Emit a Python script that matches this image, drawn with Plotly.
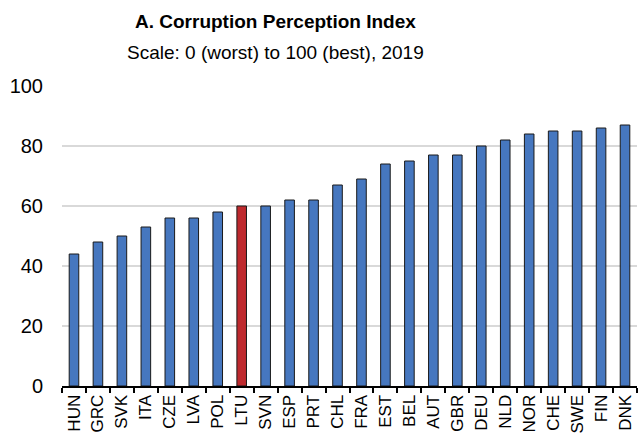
import plotly.graph_objects as go

countries = ["HUN", "GRC", "SVK", "ITA", "CZE", "LVA", "POL", "LTU", "SVN", "ESP", "PRT", "CHL",
             "FRA", "EST", "BEL", "AUT", "GBR", "DEU", "NLD", "NOR", "CHE", "SWE", "FIN", "DNK"]
cpi_2019 = [44, 48, 50, 53, 56, 56, 58, 60, 60, 62, 62, 67,
            69, 74, 75, 77, 77, 80, 82, 84, 85, 85, 86, 87]
highlight = "LTU"
y_ticks = [0, 20, 40, 60, 80, 100]

BLUE = "#4677BF"
RED = "#BE2A2E"
FONT = "Liberation Sans Narrow, Arial Narrow, Liberation Sans, Arial, sans-serif"

W, H = 641, 438
ML, MR, MT, MB = 62, 4, 86, 52
plot_h = H - MT - MB

colors = [RED if c == highlight else BLUE for c in countries]

fig = go.Figure(go.Bar(
    x=countries, y=cpi_2019,
    marker=dict(color=colors, line=dict(color="#1a1a1a", width=1)),
    width=0.4,
))


def ypix(py):
    """pixel y from top -> paper coordinate"""
    return (H - py - MB) / plot_h


fig.update_layout(
    width=W, height=H,
    margin=dict(l=ML, r=MR, t=MT, b=MB, autoexpand=False),
    paper_bgcolor="white", plot_bgcolor="white",
    font=dict(family=FONT, color="#000000", size=19),
    showlegend=False,
    annotations=[
        dict(text="<b>A. Corruption Perception Index</b>", x=0.372, y=ypix(21),
             xref="paper", yref="paper", showarrow=False, yanchor="middle",
             font=dict(size=19, family=FONT)),
        dict(text="Scale: 0 (worst) to 100 (best), 2019", x=0.372, y=ypix(52),
             xref="paper", yref="paper", showarrow=False, yanchor="middle",
             font=dict(size=19, family=FONT)),
    ],
)

fig.update_xaxes(
    type="category",
    tickangle=-90, dtick=1, tickmode="linear",
    ticks="outside", tickson="boundaries", ticklen=5, tickwidth=2, tickcolor="#000",
    showline=True, linecolor="#000", linewidth=2,
    showgrid=False,
    tickfont=dict(size=17, family=FONT),
    range=[-0.5, len(countries) - 0.5],
    automargin=False,
)
fig.update_yaxes(
    range=[0, 100],
    tickvals=y_ticks,
    showgrid=True, gridcolor="#d9d9d9", gridwidth=2,
    zeroline=False, showline=False,
    ticks="", ticklabelstandoff=18,
    tickfont=dict(size=20, family=FONT),
    automargin=False,
)

fig.write_html(
    "out.html",
    config={"displayModeBar": False},
    post_script="document.body.style.margin='0';document.body.style.padding='0';"
                "document.body.style.overflow='hidden';",
)
